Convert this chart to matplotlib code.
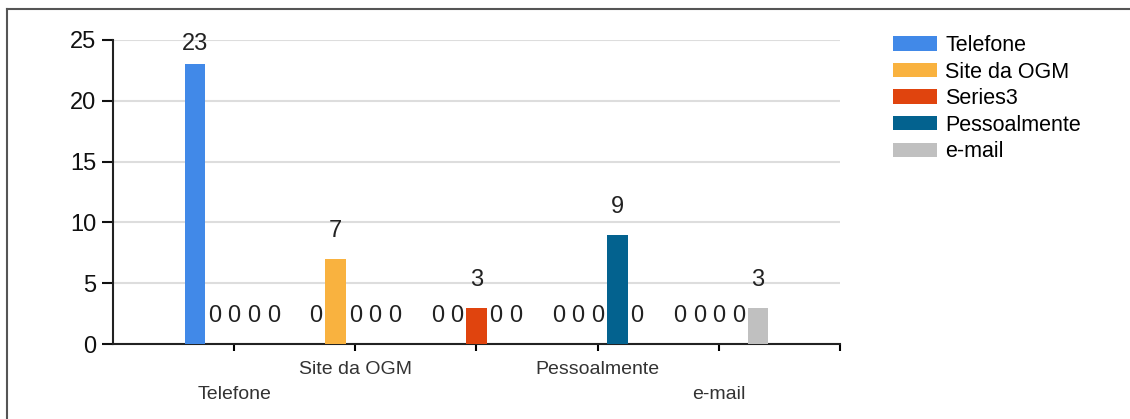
import numpy as np
import matplotlib
matplotlib.use("Agg")
from matplotlib import pyplot as plt
from matplotlib.lines import Line2D

# data
categories = ["Telefone", "Site da OGM", "", "Pessoalmente", "e-mail"]
series = ["Telefone", "Site da OGM", "Series3", "Pessoalmente", "e-mail"]
values = [
	[23, 0, 0, 0, 0],
	[0, 7, 0, 0, 0],
	[0, 0, 3, 0, 0],
	[0, 0, 0, 9, 0],
	[0, 0, 0, 0, 3],
]
colors = ["#4189E8", "#F9B23F", "#E0440E", "#03628F", "#C0C0C0"]

plt.rcParams['font.family'] = ['Liberation Sans', 'DejaVu Sans']

fig = plt.figure(figsize=(11.3, 4.19), dpi=100)
ax = fig.add_axes([113/1130, 75/419, 727/1130, 304/419])

x = np.arange(1, len(categories) + 1)
slot = 0.162
width = 0.17
for i, name in enumerate(series):
	pos = x + (i - 2) * slot
	ax.bar(pos, values[i], width=width, color=colors[i], label=name, zorder=3)
	for p, v in zip(pos, values[i]):
		# the chart keeps labels inside the plot area
		off = 12 if v < 22 else 7
		ax.annotate(str(v), (p, v), xytext=(0, off), textcoords="offset points",
					ha="center", va="bottom", fontsize=17, color="#222222")

ax.set_xlim(0, 6)
ax.set_ylim(0, 25)
ax.set_yticks([0, 5, 10, 15, 20, 25])
ax.set_xticks(np.arange(1, 7))
ax.set_xticklabels([])
ax.tick_params(axis="y", labelsize=17, length=8, width=1.5, pad=4, colors="#111111")
ax.tick_params(axis="x", length=5, width=1.5, direction="out")
ax.grid(axis="y", color="#DDDDDD", linewidth=1.5, zorder=0)
ax.set_axisbelow(True)

for s in ["top", "right"]:
	ax.spines[s].set_visible(False)
for s in ["left", "bottom"]:
	ax.spines[s].set_linewidth(1.5)
	ax.spines[s].set_color("#222222")

# staggered category labels
trans = ax.get_xaxis_transform()
for i, c in enumerate(categories):
	y = -25/304 if i % 2 == 1 else -50/304
	ax.text(x[i], y, c, transform=trans, ha="center", va="center", fontsize=14, color="#333333")

ax.legend(loc="upper left", bbox_to_anchor=(893/1130, (419 - 35)/419), bbox_transform=fig.transFigure,
		  frameon=False, fontsize=15.5, handlelength=2.05, handleheight=0.66, labelspacing=0.26,
		  handletextpad=0.37, borderpad=0, borderaxespad=0)

# frame around the picture
fig.add_artist(Line2D([7/1130, 1], [1 - 9/419, 1 - 9/419], color="#555555", linewidth=1.5))
fig.add_artist(Line2D([7/1130, 7/1130], [0, 1 - 9/419], color="#555555", linewidth=1.5))

fig.savefig("out.png", dpi=100)
